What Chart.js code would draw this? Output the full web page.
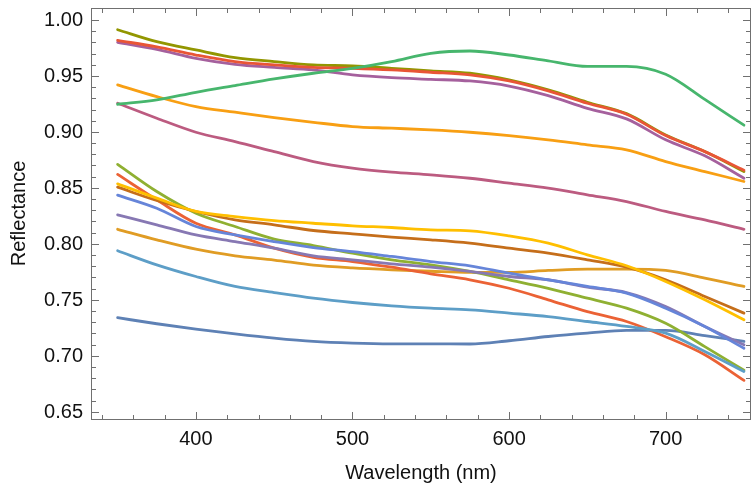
<!DOCTYPE html>
<html>
<head>
<meta charset="utf-8">
<script src="https://cdn.jsdelivr.net/npm/chart.js@4.4.1/dist/chart.umd.min.js"></script>
<style>
  html, body { margin: 0; padding: 0; background: #ffffff; }
  #wrap { width: 752px; height: 489px; }
</style>
</head>
<body>
<div id="wrap"><canvas id="c" width="752" height="489"></canvas></div>
<script>
// ---- data ----
const wavelengths = [350, 375, 400, 425, 450, 475, 500, 525, 550, 575, 600, 625, 650, 675, 700, 725, 750];

const s01 = [0.734, 0.7286, 0.7238, 0.7196, 0.7158, 0.7128, 0.7113, 0.7107, 0.7107, 0.7105, 0.7134, 0.7172, 0.7202, 0.7226, 0.7226, 0.718, 0.7128];
const s02 = [0.813, 0.8036, 0.7952, 0.7893, 0.7855, 0.781, 0.7785, 0.7768, 0.7755, 0.7745, 0.7745, 0.7762, 0.7774, 0.7774, 0.7762, 0.7694, 0.7619];
const s03 = [0.871, 0.8467, 0.8274, 0.8155, 0.8042, 0.7985, 0.7917, 0.7857, 0.7812, 0.7753, 0.7679, 0.7603, 0.7514, 0.7425, 0.729, 0.7082, 0.687];
const s04 = [0.862, 0.8393, 0.8184, 0.808, 0.7961, 0.788, 0.7842, 0.7791, 0.7732, 0.7679, 0.7603, 0.75, 0.7394, 0.7306, 0.717, 0.7009, 0.678];
const s05 = [0.8259, 0.817, 0.808, 0.802, 0.7961, 0.7893, 0.7857, 0.7821, 0.7791, 0.7753, 0.7708, 0.7679, 0.7613, 0.7565, 0.744, 0.7262, 0.7098];
const s06 = [0.8506, 0.8387, 0.8289, 0.8214, 0.817, 0.8119, 0.8089, 0.806, 0.8036, 0.8006, 0.7961, 0.7917, 0.7857, 0.7791, 0.7679, 0.753, 0.7381];
const s07 = [0.7938, 0.7812, 0.7708, 0.7619, 0.7565, 0.7515, 0.7476, 0.7446, 0.7425, 0.741, 0.7381, 0.735, 0.7306, 0.7262, 0.7202, 0.7039, 0.686];
const s08 = [0.8536, 0.8408, 0.8289, 0.8244, 0.8208, 0.8184, 0.8161, 0.8146, 0.8125, 0.8116, 0.8071, 0.8006, 0.7902, 0.7804, 0.7664, 0.75, 0.7321];
const s09 = [0.980, 0.9738, 0.9658, 0.9604, 0.9577, 0.9554, 0.951, 0.9485, 0.947, 0.9455, 0.941, 0.9324, 0.9211, 0.9116, 0.8929, 0.8786, 0.8586];
const s10 = [0.9913, 0.9806, 0.9732, 0.9664, 0.9628, 0.9598, 0.959, 0.9568, 0.9545, 0.9524, 0.9464, 0.9375, 0.9265, 0.9163, 0.8973, 0.8824, 0.8646];
const s11 = [0.9818, 0.9759, 0.9687, 0.9628, 0.9598, 0.9577, 0.9568, 0.9554, 0.9533, 0.951, 0.9455, 0.9366, 0.9256, 0.9158, 0.8967, 0.8824, 0.8658];
const s12 = [0.8435, 0.8318, 0.8155, 0.808, 0.802, 0.7967, 0.7931, 0.7887, 0.7842, 0.7804, 0.7738, 0.7679, 0.7619, 0.7559, 0.7425, 0.7262, 0.7067];
const s13 = [0.942, 0.9315, 0.9226, 0.9176, 0.9128, 0.9086, 0.9048, 0.9033, 0.9018, 0.8997, 0.8967, 0.8929, 0.8884, 0.884, 0.8735, 0.8646, 0.8557];
const s14 = [0.9256, 0.9122, 0.8997, 0.8914, 0.8824, 0.8735, 0.8676, 0.864, 0.8616, 0.8586, 0.8542, 0.8497, 0.8438, 0.8378, 0.8289, 0.8214, 0.813];
const s15 = [0.9247, 0.9286, 0.9354, 0.9414, 0.9473, 0.9524, 0.9568, 0.9628, 0.9702, 0.9723, 0.9687, 0.9635, 0.9585, 0.9585, 0.9515, 0.929, 0.906];

const seriesList = [s01, s02, s03, s04, s05, s06, s07, s08, s09, s10, s11, s12, s13, s14, s15];
const colors = ['#5E81B5', '#E09C24', '#8FB032', '#EB6235', '#8778B3', '#C56E1A', '#5D9EC7', '#FFBF00',
                '#A5609D', '#929600', '#E95536', '#6685D9', '#F89F13', '#BC5B80', '#47B66D'];

const xMajor = [400, 500, 600, 700];
const xTickLabels = ['400', '500', '600', '700'];
const yMajor = [0.65, 0.70, 0.75, 0.80, 0.85, 0.90, 0.95, 1.00];
const yTickLabels = ['0.65', '0.70', '0.75', '0.80', '0.85', '0.90', '0.95', '1.00'];
const xTitle = 'Wavelength (nm)';
const yTitle = 'Reflectance';

// ---- chart ----
const datasets = seriesList.map((s, i) => ({
  data: wavelengths.map((w, j) => ({ x: w, y: s[j] })),
  borderColor: colors[i],
  backgroundColor: colors[i],
  borderWidth: 2.8,
  pointRadius: 0,
  fill: false,
  cubicInterpolationMode: 'monotone',
  order: seriesList.length - i
}));

const FONT = '20px "Liberation Sans", Arial, sans-serif';
const frameColor = '#707070';

const framePlugin = {
  id: 'frame',
  afterDraw(chart) {
    const ctx = chart.ctx;
    const a = chart.chartArea;
    const xs = chart.scales.x, ys = chart.scales.y;
    ctx.save();
    ctx.strokeStyle = frameColor;
    ctx.lineWidth = 1;
    ctx.strokeRect(Math.round(a.left) + 0.5, Math.round(a.top) + 0.5,
                   Math.round(a.right - a.left) - 1, Math.round(a.bottom - a.top));
    const L = Math.round(a.left) + 0.5, R = Math.round(a.right) - 0.5;
    const T = Math.round(a.top) + 0.5, B = Math.round(a.bottom) + 0.5;
    ctx.beginPath();
    for (let v = 340; v <= 750; v += 20) {
      const px = Math.round(xs.getPixelForValue(v)) + 0.5;
      if (px < L + 2 || px > R - 2) continue;
      const len = (v % 100 === 0) ? 7.5 : 4.5;
      ctx.moveTo(px, B); ctx.lineTo(px, B - len);
      ctx.moveTo(px, T); ctx.lineTo(px, T + len);
    }
    for (let k = 65; k <= 101; k++) {
      const v = k / 100;
      const py = Math.round(ys.getPixelForValue(v)) + 0.5;
      if (py < T + 2 || py > B - 2) continue;
      const len = (k % 5 === 0) ? 7.5 : 4.5;
      ctx.moveTo(L, py); ctx.lineTo(L + len, py);
      ctx.moveTo(R, py); ctx.lineTo(R - len, py);
    }
    ctx.stroke();

    ctx.fillStyle = '#111111';
    ctx.font = FONT;
    ctx.textAlign = 'center';
    ctx.textBaseline = 'middle';
    xMajor.forEach((v, i) => {
      ctx.fillText(xTickLabels[i], xs.getPixelForValue(v), 439);
    });
    ctx.textAlign = 'right';
    yMajor.forEach((v, i) => {
      ctx.fillText(yTickLabels[i], 83, ys.getPixelForValue(v) + 0.5);
    });
    ctx.textAlign = 'center';
    ctx.fillText(xTitle, (a.left + a.right) / 2, 473);
    ctx.save();
    ctx.translate(19, (a.top + a.bottom) / 2);
    ctx.rotate(-Math.PI / 2);
    ctx.fillText(yTitle, 0, 0);
    ctx.restore();
    ctx.restore();
  }
};

new Chart(document.getElementById('c'), {
  type: 'line',
  data: { datasets },
  options: {
    responsive: false,
    animation: false,
    events: [],
    layout: { padding: { left: 91, right: 1, top: 8, bottom: 70 } },
    plugins: { legend: { display: false }, tooltip: { enabled: false } },
    scales: {
      x: { type: 'linear', min: 333, max: 754.5, display: false },
      y: { type: 'linear', min: 0.6435, max: 1.0107, display: false }
    },
    elements: { line: { borderCapStyle: 'round', borderJoinStyle: 'round' } }
  },
  plugins: [framePlugin]
});
</script>
</body>
</html>
